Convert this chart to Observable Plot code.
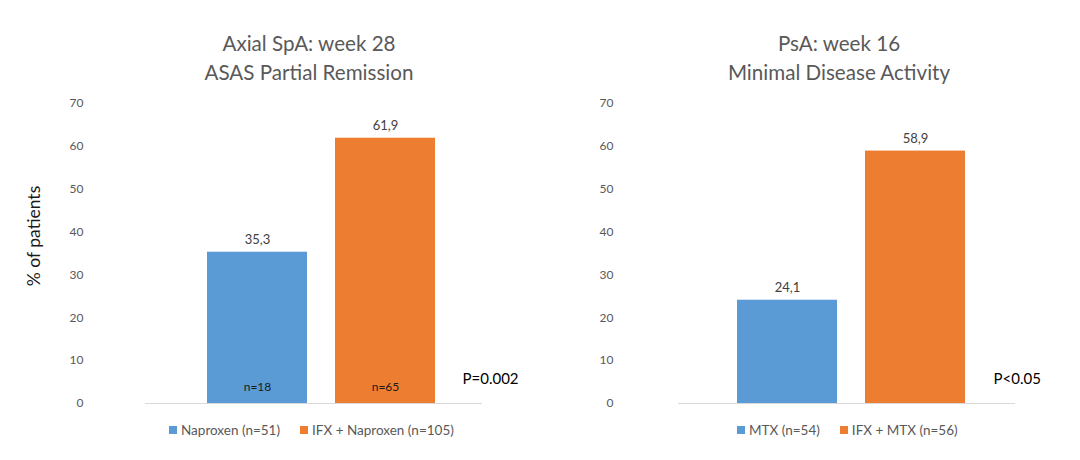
<!DOCTYPE html>
<html><head><meta charset="utf-8">
<script src="https://cdn.jsdelivr.net/npm/d3@7"></script>
<script src="https://cdn.jsdelivr.net/npm/@observablehq/plot@0.6"></script>
<style>
body{margin:0;background:#fff;font-family:Lato,sans-serif;}
#wrap{position:relative;width:1080px;height:460px;overflow:hidden;background:#fff;}
.panel{position:absolute;top:0;width:540px;height:460px;}
.title{position:absolute;top:29px;width:400px;text-align:center;font-size:20.6px;color:#595959;line-height:29px;white-space:nowrap;}
.leg{position:absolute;top:422px;}
.lg-swatches{min-height:16px !important;margin:0 !important;font-family:Lato,sans-serif;font-size:13.5px;color:#595959;}
.lg-swatch{margin-right:20px !important;}
.lg-swatch > svg{margin-right:4px !important;}
.ylab{position:absolute;left:33px;top:236px;transform:translate(-50%,-50%) rotate(-90deg);font-size:17.5px;color:#1a1a1a;white-space:nowrap;}
</style>
</head><body>
<div id="wrap"></div>
<script>
const titlesLeft = ["Axial SpA: week 28", "ASAS Partial Remission"];
const titlesRight = ["PsA: week 16", "Minimal Disease Activity"];
const axialGroups = ["Naproxen (n=51)", "IFX + Naproxen (n=105)"];
const axialValues = [35.3, 61.9];
const axialCounts = ["n=18", "n=65"];
const psaGroups = ["MTX (n=54)", "IFX + MTX (n=56)"];
const psaValues = [24.1, 58.9];
const pValues = ["P=0.002", "P<0.05"];
const yTicks = [0, 10, 20, 30, 40, 50, 60, 70];
const colors = ["#5b9bd5", "#ed7d31"];
const yLabel = "% of patients";

const fmt = v => v.toFixed(1).replace(".", ",");

function makePanel(groups, values, counts, pText, o) {
  const data = groups.map((g, i) => ({group: g, value: values[i], n: counts ? counts[i] : ""}));
  return Plot.plot({
    width: 540, height: 460,
    marginTop: 103, marginBottom: 57, marginLeft: o.ml, marginRight: o.mr,
    style: {fontFamily: "Lato, sans-serif", fontSize: "12px", color: "#595959", background: "transparent"},
    x: {domain: groups, range: o.xr, paddingInner: 0.22, paddingOuter: 0, axis: null},
    y: {domain: [0, 70], ticks: yTicks, tickSize: 0, tickPadding: o.tp, label: null},
    color: {domain: groups, range: colors},
    marks: [
      Plot.barY(data, {x: "group", y: "value", fill: "group"}),
      Plot.ruleY([0], {stroke: "#d9d9d9"}),
      Plot.text(data, {x: "group", y: "value", text: d => fmt(d.value), dy: -12, fill: "#404040", fontSize: 13}),
      Plot.text(data, {x: "group", y: () => 0, text: "n", dy: -16, fill: "#1a1a1a", fontSize: 12}),
      Plot.text([pText], {frameAnchor: "bottom-right", textAnchor: "start", dx: o.pdx, dy: -20, fontSize: 15, fill: "#000"})
    ]
  });
}

const wrap = document.getElementById("wrap");

function addPanel(left, titles, groups, values, counts, pText, o, titleCenter, legLeft) {
  const p = document.createElement("div");
  p.className = "panel";
  p.style.left = left + "px";
  p.appendChild(makePanel(groups, values, counts, pText, o));
  const t = document.createElement("div");
  t.className = "title";
  t.style.left = (titleCenter - 200) + "px";
  t.innerHTML = titles.map(s => `<div>${s}</div>`).join("");
  p.appendChild(t);
  const lg = Plot.legend({color: {type: "ordinal", domain: groups, range: colors}, swatchSize: 8, className: "lg"});
  lg.classList.add("leg");
  lg.style.left = legLeft + "px";
  p.appendChild(lg);
  wrap.appendChild(p);
}

addPanel(0, titlesLeft, axialGroups, axialValues, axialCounts, pValues[0],
  {ml: 145, mr: 58, xr: [206, 435], tp: 62, pdx: -20}, 309, 169);
addPanel(540, titlesRight, psaGroups, psaValues, null, pValues[1],
  {ml: 138, mr: 65, xr: [197, 425], tp: 65, pdx: -22}, 299, 197);

const yl = document.createElement("div");
yl.className = "ylab";
yl.textContent = yLabel;
wrap.appendChild(yl);
</script>
</body></html>
